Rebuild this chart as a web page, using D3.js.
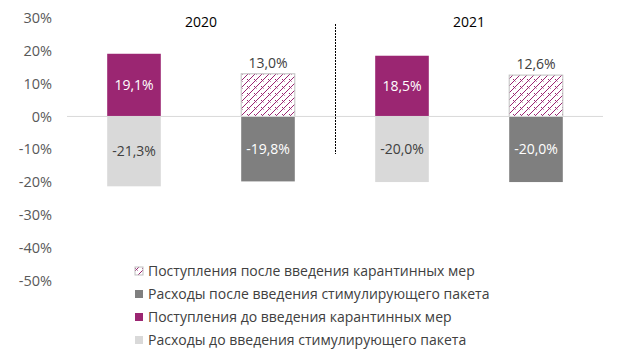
<!DOCTYPE html>
<html><head><meta charset="utf-8">
<script src="https://cdn.jsdelivr.net/npm/d3@7"></script>
<style>body{margin:0;background:#fff}svg{font-family:"Segoe UI","Open Sans","Noto Sans",sans-serif}</style>
</head><body><svg id="c" width="618" height="357"></svg>
<script>
const categories = ["2020 до", "2020 после", "2021 до", "2021 после"];
const years = ["2020", "2021"];
const revenueBefore = [19.1, null, 18.5, null];
const revenueAfter = [null, 13.0, null, 12.6];
const spendBefore = [-21.3, null, -20.0, null];
const spendAfter = [null, -19.8, null, -20.0];
const yTicks = [30, 20, 10, 0, -10, -20, -30, -40, -50];
const legendItems = [
  {name: "Поступления после введения карантинных мер", key: "ra"},
  {name: "Расходы после введения стимулирующего пакета", key: "sa"},
  {name: "Поступления до введения карантинных мер", key: "rb"},
  {name: "Расходы до введения стимулирующего пакета", key: "sb"}
];

const svg = d3.select("#c");
const purple = "#9B2672", light = "#D9D9D9", dark = "#7F7F7F";
const FS = 14;
const defs = svg.append("defs");
const pat = defs.append("pattern").attr("id","hatch").attr("patternUnits","userSpaceOnUse")
  .attr("width",7).attr("height",7);
pat.append("rect").attr("width",7).attr("height",7).attr("fill","#fff");
pat.append("path").attr("d","M-1,8 L8,-1 M-1,1 L1,-1 M6,8 L8,6").attr("stroke",purple).attr("stroke-width",1);
pat.append("path").attr("d","M2,2 L4.5,4.5").attr("stroke",purple).attr("stroke-width",1);

const x = d3.scaleBand().domain(categories).range([67, 603]).paddingInner(0.6).paddingOuter(0.3);
const y = d3.scaleLinear().domain([-50, 30]).range([280.5, 18]);

// y axis labels
const yAxis = d3.axisLeft(y).tickValues(yTicks).tickSize(0).tickPadding(0).tickFormat(d => d + "%");
const ya = svg.append("g").attr("transform","translate(52,0)").call(yAxis);
ya.select(".domain").remove();
ya.selectAll("text").attr("fill","#595959").attr("font-size",14.5).attr("font-family",'"Segoe UI","Open Sans","Noto Sans",sans-serif');

function bars(vals, fill, key, labelColor, labelOutside) {
  const g = svg.append("g");
  categories.forEach((c, i) => {
    const v = vals[i];
    if (v == null) return;
    const y0 = y(Math.max(0, v)), y1 = y(Math.min(0, v));
    g.append("rect").attr("x", x(c)).attr("width", x.bandwidth()).attr("y", y0).attr("height", y1 - y0)
      .attr("fill", fill).attr("stroke", key === "ra" ? "#BFBFBF" : "none").attr("stroke-width", 1);
    const ly = labelOutside ? y0 - 11 : (y0 + y1) / 2;
    g.append("text").attr("x", x(c) + x.bandwidth()/2).attr("y", ly).attr("dy","0.35em")
      .attr("text-anchor","middle").attr("font-size",FS).attr("fill",labelColor)
      .text(v.toFixed(1).replace(".", ",") + "%");
  });
}
bars(revenueBefore, purple, "rb", "#fff", false);
bars(revenueAfter, "url(#hatch)", "ra", "#404040", true);
bars(spendBefore, light, "sb", "#404040", false);
bars(spendAfter, dark, "sa", "#fff", false);

// zero line
svg.append("line").attr("x1",67).attr("x2",603).attr("y1",y(0)).attr("y2",y(0)).attr("stroke","#D9D9D9").attr("stroke-width",1);

// separator
const sepX = (x(categories[1]) + x.bandwidth() + x(categories[2])) / 2;
svg.append("line").attr("x1",Math.round(sepX)+0.5).attr("x2",Math.round(sepX)+0.5).attr("y1",24).attr("y2",154)
  .attr("stroke","#000").attr("stroke-width",1).attr("stroke-dasharray","2,1");

// year labels
years.forEach((yr, i) => {
  const cx = (x(categories[2*i]) + x(categories[2*i+1]) + x.bandwidth()) / 2;
  svg.append("text").attr("x", cx).attr("y", 22).attr("dy","0.35em").attr("text-anchor","middle")
    .attr("font-size",FS).attr("fill","#000").text(yr);
});

// legend
const fills = {ra:"url(#hatch)", sa:dark, rb:purple, sb:light};
legendItems.forEach((it, i) => {
  const ly = 271 + i * 23;
  svg.append("rect").attr("x",135).attr("y",ly-4).attr("width",8).attr("height",8)
    .attr("fill",fills[it.key]).attr("stroke", it.key==="ra" ? "#BFBFBF" : "none");
  svg.append("text").attr("x",148).attr("y",ly).attr("dy","0.35em").attr("font-size",FS)
    .attr("fill","#404040").text(it.name);
});
</script></body></html>
